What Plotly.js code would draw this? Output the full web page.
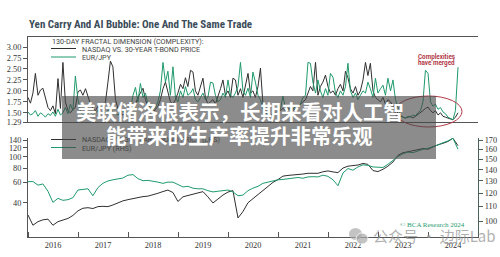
<!DOCTYPE html>
<html><head><meta charset="utf-8">
<script src="https://cdn.plot.ly/plotly-3.0.1.min.js"></script>
<style>html,body{margin:0;padding:0;background:#fff}#chart{width:500px;height:257px}</style>
</head><body><div id="chart"></div>
<script>
// ---------- data ----------
const startYear = 2016;
const fdStep = 0.05;           // years between fractal-dimension readings (top panel)
const levelStep = 0.1;         // years between level readings (bottom panel)

// 130-day fractal dimension: NASDAQ vs. 30-year T-bond price
const fdNasdaqBond = [
 1.85,1.72,1.95,2.40,1.90,2.02,2.06,1.85,1.62,1.55,1.66,1.48,2.28,1.60,2.65,1.75,1.55,1.50,1.58,1.62,
 1.98,2.02,1.90,2.05,1.85,1.70,1.60,1.55,1.65,1.58,1.62,1.75,2.20,2.68,2.55,1.80,1.60,1.50,1.45,1.48,
 1.50,1.55,1.62,1.70,1.85,1.95,2.06,1.80,1.65,1.55,1.50,1.58,1.65,1.80,2.05,2.20,1.95,1.75,1.70,1.80,
 1.95,2.15,2.05,2.30,2.10,2.47,2.43,2.00,1.90,2.10,2.29,1.85,1.70,1.75,1.80,1.70,1.85,2.05,2.25,1.90,
 2.00,1.85,2.29,2.25,1.90,2.05,1.85,2.10,2.40,1.95,2.00,1.85,2.10,2.52,1.70,1.55,1.50,1.45,1.48,1.50,
 1.52,1.55,1.60,1.55,1.58,1.62,1.55,1.60,1.65,1.70,1.75,1.80,1.95,2.10,2.00,2.65,1.90,2.10,2.20,2.36,
 2.10,1.95,2.00,1.90,2.05,2.15,2.00,2.45,2.30,2.05,1.95,2.10,1.90,2.00,2.25,2.65,2.35,2.63,2.00,1.85,
 1.80,1.75,1.85,1.70,1.80,1.75,1.65,1.55,1.50,1.42,1.40,1.38,1.40,1.42,1.38,1.42,1.45,1.50,1.55,1.60,
 1.63,1.55,1.50,1.55,1.45,1.50,1.42,1.40,1.38,1.35,1.34,1.40,1.50
];
// 130-day fractal dimension: EUR/JPY
const fdEurJpy = [
 1.52,1.45,1.48,1.55,1.42,1.50,1.46,1.40,1.48,1.44,1.52,1.42,1.58,1.45,1.50,1.62,1.48,1.70,1.55,2.34,
 1.80,1.55,1.45,1.50,1.48,1.52,1.45,1.50,1.55,1.48,1.52,1.50,1.55,1.60,1.52,1.48,1.45,1.50,1.55,1.48,
 1.45,1.55,1.90,2.08,1.75,2.17,1.85,1.95,1.70,1.60,1.55,1.62,1.75,2.00,2.65,2.20,2.45,1.90,2.55,1.85,
 1.75,2.00,1.85,2.10,1.90,1.95,2.05,1.80,1.75,1.85,1.95,1.80,1.85,2.20,2.18,1.90,1.75,1.80,1.95,1.85,
 2.25,1.90,1.85,1.95,2.10,2.65,2.00,1.90,2.06,1.85,2.43,2.20,1.90,1.80,1.60,1.50,1.45,1.42,1.45,1.48,
 1.50,1.58,1.88,1.60,1.55,1.60,1.58,1.65,1.62,1.70,1.85,1.90,2.65,2.63,2.20,1.95,2.25,2.00,1.85,2.05,
 1.90,2.40,2.31,1.95,1.85,2.00,1.90,2.10,2.63,2.00,1.85,1.95,1.80,1.90,2.00,1.95,2.20,2.05,1.85,2.29,
 1.95,2.05,2.13,1.90,2.29,2.00,2.25,1.80,1.60,1.45,1.40,1.38,1.42,1.40,1.45,1.43,1.50,1.55,1.75,2.47,
 2.40,1.75,1.65,1.70,1.58,1.62,1.52,1.48,1.40,1.36,1.34,1.55,2.54
];
// NASDAQ vs. 30-year T-bond price (LHS)
const nasdaqBond = [
 31.3,25.5,27.4,28.4,28.8,25.5,27.4,28.4,29.2,31.0,
 34.0,35.8,36.2,35.6,37.0,37.2,37.0,38.2,40.0,41.5,
 42.5,43.6,44.5,45.2,45.6,46.6,48.3,50.0,51.5,49.0,
 41.0,45.0,46.0,47.5,48.5,49.9,45.0,39.8,43.0,46.6,
 49.5,50.9,29.5,33.5,40.0,43.5,47.0,51.6,55.5,60.0,
 63.5,68.0,69.0,69.5,69.5,70.9,72.0,72.5,72.0,74.2,
 75.5,74.0,73.0,80.0,83.0,84.0,85.0,87.6,86.0,76.0,
 74.5,78.0,83.0,90.2,103.0,108.5,111.0,114.3,117.0,118.0,
 116.5,122.5,127.5,131.0,136.0,145.0,125.0
];
// EUR/JPY (RHS)
const eurJpy = [
 129.4,129.5,126.5,127.5,121.5,113.0,116.0,114.5,115.0,116.5,
 122.5,123.0,123.5,118.0,124.5,128.0,130.0,131.0,131.5,132.5,
 135.0,135.5,132.0,130.2,130.5,130.0,129.0,128.0,129.0,129.0,
 127.0,125.0,125.5,124.0,123.5,123.5,122.0,121.0,121.5,122.0,
 122.5,121.0,118.0,118.5,122.0,124.0,125.5,128.0,129.0,130.5,
 131.0,131.3,132.0,132.8,133.0,132.3,133.5,133.7,133.5,135.0,
 134.0,131.0,126.0,137.0,141.0,139.5,142.5,144.5,144.0,142.5,
 142.0,142.0,145.0,149.0,152.5,155.5,157.0,156.5,158.5,160.0,
 161.0,162.5,164.5,167.0,169.0,172.0,160.0
];
const fdTicks = [1.29,1.50,1.75,2.00,2.25,2.50,2.75,3.00];
const lhsTicks = [40,60,80,100,120,140];
const rhsTicks = [100,110,120,130,140,150,160,170];

// ---------- helpers ----------
function yearToDate(y){
  const ms = Date.UTC(startYear,0,1) + (y - startYear) * 365.25 * 86400000;
  return new Date(ms).toISOString().slice(0,10);
}
const fdDates = fdNasdaqBond.map((_, i) => yearToDate(startYear + i * fdStep));
const lvDates = nasdaqBond.map((_, i) => yearToDate(startYear + i * levelStep));
const W = 500, H = 257;
const px = x => x / W, py = y => 1 - y / H;

const BLACK = '#2f2f2f', GREEN = '#1f9a6c', AXIS = '#555', RAXIS = '#4b625b';
const tickFont = {family:'Liberation Serif, DejaVu Serif, serif', size:8.3, color:'#333'};
const sans = 'Roboto, Liberation Sans, sans-serif';
const legFont = {family:sans, size:7.2, color:'#444'};

const traces = [
  {x: fdDates, y: fdNasdaqBond, xaxis:'x2', yaxis:'y2', type:'scatter', mode:'lines',
   line:{color:BLACK, width:1}, hoverinfo:'skip'},
  {x: fdDates, y: fdEurJpy, xaxis:'x2', yaxis:'y2', type:'scatter', mode:'lines',
   line:{color:GREEN, width:1}, hoverinfo:'skip'},
  {x: lvDates, y: nasdaqBond, xaxis:'x', yaxis:'y', type:'scatter', mode:'lines',
   line:{color:BLACK, width:1}, hoverinfo:'skip'},
  {x: lvDates, y: eurJpy, xaxis:'x', yaxis:'y4', type:'scatter', mode:'lines',
   line:{color:GREEN, width:1}, hoverinfo:'skip'}
];

const xRange = [yearToDate(2016), yearToDate(2025)];
const layout = {
  width: W, height: H, margin:{l:0,r:0,t:0,b:0},
  paper_bgcolor:'#fff', plot_bgcolor:'rgba(0,0,0,0)', showlegend:false,
  xaxis:{domain:[px(28), px(478)], anchor:'y', type:'date', range:xRange,
    showline:true, linecolor:AXIS, linewidth:1, ticks:'inside', ticklen:5, tickcolor:AXIS,
    dtick:'M12', tick0:'2016-01-01', ticklabelmode:'period', tickformat:'%Y',
    tickfont:tickFont, showgrid:false, zeroline:false},
  xaxis2:{domain:[px(28), px(478)], anchor:'y2', type:'date', range:xRange, matches:'x',
    showline:true, mirror:true, linecolor:AXIS, linewidth:1, ticks:'', showticklabels:false,
    showgrid:false, zeroline:false},
  yaxis:{domain:[py(237), py(137.5)], anchor:'x', type:'log', range:[1.3044, 2.168],
    tickmode:'array', tickvals:lhsTicks, ticktext:lhsTicks.map(String),
    showline:true, linecolor:AXIS, linewidth:1, ticks:'outside', ticklen:4, tickcolor:AXIS,
    tickfont:tickFont, showgrid:false, zeroline:false},
  yaxis4:{overlaying:'y', side:'right', anchor:'x', type:'log', range:[1.9545, 2.2376],
    tickmode:'array', tickvals:rhsTicks, ticktext:rhsTicks.map(String),
    showline:true, linecolor:RAXIS, linewidth:1, ticks:'outside', ticklen:4, tickcolor:RAXIS,
    tickfont:tickFont, showgrid:false, zeroline:false},
  yaxis2:{domain:[py(122), py(37)], anchor:'x2', range:[1.29, 3.23],
    tickmode:'array', tickvals:fdTicks, ticktext:fdTicks.map(v=>v.toFixed(2)),
    showline:true, linecolor:AXIS, linewidth:1, ticks:'outside', ticklen:4, tickcolor:AXIS,
    tickfont:tickFont, showgrid:false, zeroline:false},
  yaxis3:{overlaying:'y2', side:'right', anchor:'x2', range:[1.29, 3.23],
    tickmode:'array', tickvals:fdTicks, ticktext:fdTicks.map(v=>v.toFixed(2)),
    showline:true, linecolor:RAXIS, linewidth:1, ticks:'outside', ticklen:4, tickcolor:RAXIS,
    tickfont:tickFont, showgrid:false, zeroline:false},
  shapes:[
    // legend samples
    {type:'line', xref:'paper', yref:'paper', x0:px(51), x1:px(76), y0:py(48.5), y1:py(48.5), line:{color:BLACK, width:1}},
    {type:'line', xref:'paper', yref:'paper', x0:px(51), x1:px(76), y0:py(57), y1:py(57), line:{color:GREEN, width:1}},
    {type:'line', xref:'paper', yref:'paper', x0:px(51), x1:px(76), y0:py(139.5), y1:py(139.5), line:{color:BLACK, width:1}},
    {type:'line', xref:'paper', yref:'paper', x0:px(51), x1:px(76), y0:py(147.5), y1:py(147.5), line:{color:GREEN, width:1}},
    // highlight ellipse
    {type:'circle', xref:'paper', yref:'paper', x0:px(395), x1:px(462), y0:py(127), y1:py(96), line:{color:'#b23a48', width:1}},
    // news banner
    {type:'rect', xref:'paper', yref:'paper', x0:px(62), x1:px(436), y0:py(159), y1:py(96), line:{width:0}, fillcolor:'rgba(70,70,70,0.62)', layer:'above'},
    // watermark icon
    {type:'circle', xref:'paper', yref:'paper', x0:px(349), x1:px(362), y0:py(240), y1:py(228), line:{width:0}, fillcolor:'rgba(170,170,170,0.7)', layer:'above'},
    {type:'circle', xref:'paper', yref:'paper', x0:px(356), x1:px(368), y0:py(244), y1:py(233), line:{color:'rgba(255,255,255,0.8)', width:1}, fillcolor:'rgba(170,170,170,0.7)', layer:'above'}
  ],
  annotations:[
    {text:'<b>Yen Carry And AI Bubble: One And The Same Trade</b>', xref:'paper', yref:'paper', x:px(27), y:py(24), xanchor:'left', yanchor:'middle', showarrow:false,
     font:{family:'Liberation Sans Narrow, Roboto Condensed, Roboto, sans-serif', size:11, color:'#3b4c5a'}},
    {text:'130-DAY FRACTAL DIMENSION (COMPLEXITY):', xref:'paper', yref:'paper', x:px(50), y:py(41), xanchor:'left', yanchor:'middle', showarrow:false,
     font:legFont},
    {text:'NASDAQ VS. 30-YEAR T-BOND PRICE', xref:'paper', yref:'paper', x:px(80), y:py(49), xanchor:'left', yanchor:'middle', showarrow:false,
     font:legFont},
    {text:'EUR/JPY', xref:'paper', yref:'paper', x:px(80), y:py(57.5), xanchor:'left', yanchor:'middle', showarrow:false,
     font:legFont},
    {text:'NASDAQ VS. 30-YEAR T-BOND PRICE (LHS)', xref:'paper', yref:'paper', x:px(80), y:py(139.5), xanchor:'left', yanchor:'middle', showarrow:false,
     font:legFont},
    {text:'EUR/JPY (RHS)', xref:'paper', yref:'paper', x:px(80), y:py(148), xanchor:'left', yanchor:'middle', showarrow:false,
     font:legFont},
    {text:'<b>Complexities</b>', xref:'paper', yref:'paper', x:px(436.5), y:py(57.5), xanchor:'center', yanchor:'middle', showarrow:false,
     font:{family:sans, size:6.3, color:'#b23a48'}},
    {text:'<b>have merged</b>', xref:'paper', yref:'paper', x:px(436.5), y:py(63), xanchor:'center', yanchor:'middle', showarrow:false,
     font:{family:sans, size:6.3, color:'#b23a48'}},
    {text:'© BCA Research 2024', xref:'paper', yref:'paper', x:px(432), y:py(225), xanchor:'center', yanchor:'middle', showarrow:false,
     font:{family:'Liberation Serif, serif', size:7, color:GREEN}},
    {text:'<b>美联储洛根表示，长期来看对人工智</b>', xref:'paper', yref:'paper', x:px(239.5), y:py(111), xanchor:'center', yanchor:'middle', showarrow:false,
     font:{family:'Noto Sans CJK SC, sans-serif', size:20.5, color:'#ffffff'}},
    {text:'<b>能带来的生产率提升非常乐观</b>', xref:'paper', yref:'paper', x:px(239.5), y:py(135), xanchor:'center', yanchor:'middle', showarrow:false,
     font:{family:'Noto Sans CJK SC, sans-serif', size:20.5, color:'#ffffff'}},
    {text:'公众号 · 边际Lab', xref:'paper', yref:'paper', x:px(371), y:py(235.5), xanchor:'left', yanchor:'middle', showarrow:false,
     font:{family:'Noto Sans CJK SC, sans-serif', size:15, color:'rgba(150,150,150,0.75)'}}
  ]
};
Plotly.newPlot('chart', traces, layout, {staticPlot:true, displayModeBar:false});
</script></body></html>
